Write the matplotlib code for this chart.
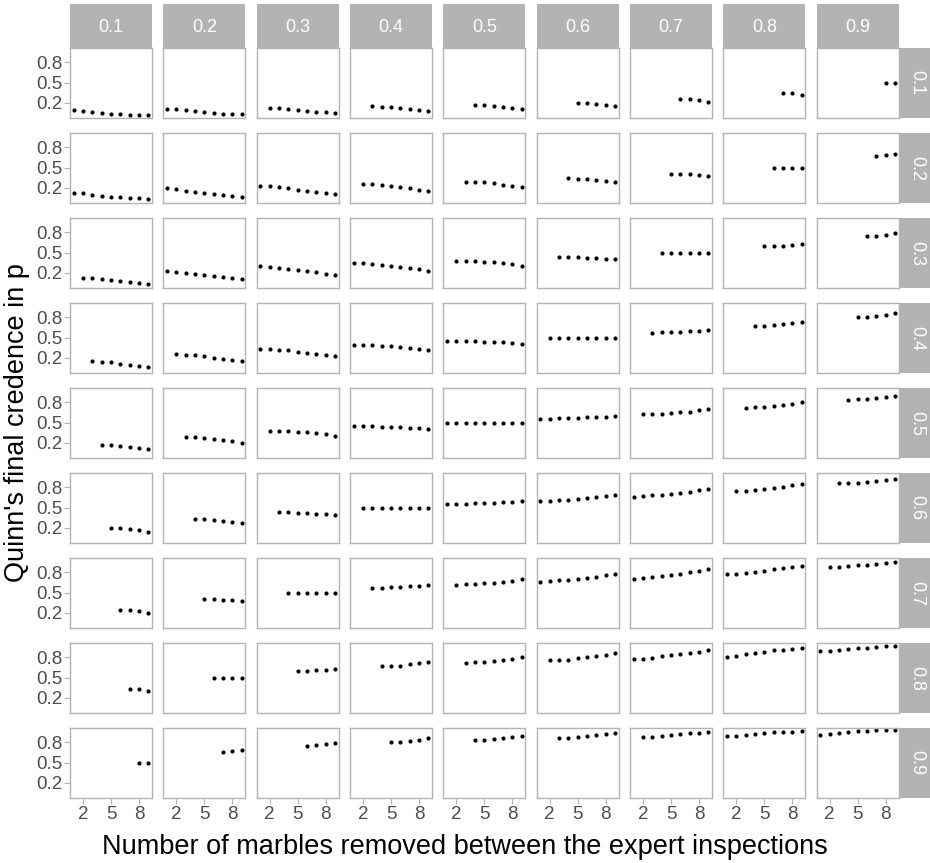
import matplotlib
matplotlib.use("Agg")
import matplotlib.pyplot as plt
import numpy as np

plt.rcParams['font.family'] = ['Liberation Sans Narrow', 'Liberation Sans', 'DejaVu Sans']

# facet labels (rows = first parameter, columns = second parameter)
row_labels = ["0.1", "0.2", "0.3", "0.4", "0.5", "0.6", "0.7", "0.8", "0.9"]
col_labels = ["0.1", "0.2", "0.3", "0.4", "0.5", "0.6", "0.7", "0.8", "0.9"]

# Quinn's final credence; each panel's points end at 9 marbles removed
row_01 = [
    [0.10, 0.085, 0.065, 0.05, 0.04, 0.03, 0.025, 0.02, 0.02],
    [0.115, 0.105, 0.095, 0.08, 0.065, 0.05, 0.04, 0.035, 0.03],
    [0.13, 0.125, 0.115, 0.10, 0.085, 0.07, 0.06, 0.05],
    [0.15, 0.145, 0.14, 0.125, 0.11, 0.10, 0.08],
    [0.175, 0.17, 0.16, 0.145, 0.13, 0.11],
    [0.205, 0.20, 0.19, 0.175, 0.155],
    [0.26, 0.255, 0.24, 0.215],
    [0.35, 0.345, 0.315],
    [0.50, 0.50],
]
row_02 = [
    [0.125, 0.12, 0.10, 0.085, 0.07, 0.06, 0.055, 0.045, 0.04],
    [0.205, 0.18, 0.16, 0.145, 0.125, 0.105, 0.09, 0.08, 0.07],
    [0.235, 0.225, 0.21, 0.195, 0.175, 0.155, 0.14, 0.125, 0.11],
    [0.26, 0.255, 0.245, 0.23, 0.215, 0.195, 0.17, 0.155],
    [0.295, 0.295, 0.285, 0.27, 0.25, 0.235, 0.21],
    [0.34, 0.335, 0.33, 0.315, 0.30, 0.285],
    [0.41, 0.405, 0.40, 0.39, 0.38],
    [0.50, 0.50, 0.50, 0.50],
    [0.675, 0.68, 0.705],
]
row_03 = [
    [0.13, 0.125, 0.11, 0.095, 0.08, 0.065, 0.05, 0.04],
    [0.225, 0.22, 0.205, 0.185, 0.17, 0.155, 0.14, 0.12, 0.105],
    [0.30, 0.29, 0.275, 0.26, 0.245, 0.23, 0.21, 0.19, 0.17],
    [0.345, 0.34, 0.335, 0.32, 0.305, 0.29, 0.275, 0.255, 0.235],
    [0.38, 0.38, 0.375, 0.365, 0.355, 0.345, 0.335, 0.31],
    [0.43, 0.43, 0.43, 0.425, 0.42, 0.41, 0.40],
    [0.50, 0.50, 0.50, 0.50, 0.50, 0.50],
    [0.595, 0.60, 0.605, 0.615, 0.63],
    [0.745, 0.75, 0.765, 0.79],
]
row_04 = [
    [0.15, 0.145, 0.135, 0.115, 0.10, 0.085, 0.07],
    [0.255, 0.25, 0.24, 0.225, 0.205, 0.19, 0.17, 0.15],
    [0.335, 0.33, 0.32, 0.31, 0.295, 0.28, 0.265, 0.245, 0.225],
    [0.395, 0.39, 0.385, 0.375, 0.37, 0.36, 0.345, 0.33, 0.31],
    [0.45, 0.45, 0.445, 0.445, 0.44, 0.435, 0.43, 0.425, 0.41],
    [0.50, 0.50, 0.50, 0.50, 0.50, 0.50, 0.50, 0.50],
    [0.575, 0.58, 0.585, 0.59, 0.595, 0.605, 0.615],
    [0.67, 0.675, 0.685, 0.695, 0.71, 0.73],
    [0.805, 0.805, 0.825, 0.84, 0.865],
]
row_05 = [
    [0.17, 0.165, 0.155, 0.14, 0.125, 0.105],
    [0.29, 0.29, 0.28, 0.265, 0.245, 0.225, 0.20],
    [0.38, 0.38, 0.375, 0.365, 0.355, 0.34, 0.325, 0.305],
    [0.445, 0.445, 0.445, 0.44, 0.435, 0.43, 0.425, 0.415, 0.405],
    [0.50, 0.50, 0.50, 0.50, 0.50, 0.50, 0.50, 0.50, 0.50],
    [0.56, 0.56, 0.565, 0.57, 0.575, 0.58, 0.585, 0.59, 0.60],
    [0.625, 0.63, 0.635, 0.645, 0.655, 0.665, 0.68, 0.70],
    [0.72, 0.725, 0.735, 0.75, 0.76, 0.78, 0.80],
    [0.84, 0.845, 0.855, 0.87, 0.88, 0.90],
]
row_06 = [
    [0.20, 0.195, 0.185, 0.165, 0.145],
    [0.33, 0.33, 0.32, 0.305, 0.295, 0.275],
    [0.43, 0.43, 0.425, 0.42, 0.41, 0.405, 0.39],
    [0.50, 0.50, 0.50, 0.50, 0.50, 0.50, 0.50, 0.50],
    [0.555, 0.555, 0.56, 0.565, 0.57, 0.575, 0.58, 0.59, 0.60],
    [0.60, 0.605, 0.615, 0.62, 0.63, 0.64, 0.655, 0.67, 0.69],
    [0.665, 0.67, 0.68, 0.69, 0.705, 0.72, 0.735, 0.755, 0.775],
    [0.75, 0.75, 0.76, 0.775, 0.795, 0.81, 0.83, 0.85],
    [0.86, 0.86, 0.87, 0.885, 0.90, 0.91, 0.925],
]
row_07 = [
    [0.25, 0.245, 0.225, 0.205],
    [0.40, 0.40, 0.395, 0.385, 0.37],
    [0.50, 0.50, 0.50, 0.50, 0.50, 0.50],
    [0.57, 0.575, 0.58, 0.585, 0.595, 0.60, 0.61],
    [0.62, 0.625, 0.63, 0.64, 0.65, 0.66, 0.675, 0.695],
    [0.665, 0.67, 0.68, 0.69, 0.705, 0.715, 0.73, 0.755, 0.775],
    [0.705, 0.715, 0.73, 0.745, 0.76, 0.78, 0.80, 0.825, 0.845],
    [0.775, 0.78, 0.79, 0.81, 0.825, 0.845, 0.86, 0.88, 0.90],
    [0.875, 0.88, 0.89, 0.905, 0.915, 0.925, 0.94, 0.95],
]
row_08 = [
    [0.335, 0.33, 0.31],
    [0.50, 0.50, 0.50, 0.50],
    [0.60, 0.605, 0.61, 0.615, 0.63],
    [0.67, 0.675, 0.68, 0.695, 0.71, 0.73],
    [0.72, 0.725, 0.735, 0.75, 0.765, 0.78, 0.805],
    [0.755, 0.755, 0.765, 0.785, 0.805, 0.82, 0.84, 0.86],
    [0.78, 0.78, 0.795, 0.815, 0.83, 0.85, 0.865, 0.885, 0.905],
    [0.805, 0.825, 0.85, 0.865, 0.885, 0.905, 0.915, 0.93, 0.94],
    [0.89, 0.895, 0.905, 0.925, 0.94, 0.945, 0.955, 0.965, 0.97],
]
row_09 = [
    [0.50, 0.50],
    [0.665, 0.67, 0.69],
    [0.75, 0.755, 0.77, 0.795],
    [0.80, 0.80, 0.82, 0.835, 0.86],
    [0.83, 0.835, 0.85, 0.87, 0.885, 0.90],
    [0.86, 0.865, 0.88, 0.895, 0.91, 0.92, 0.935],
    [0.88, 0.88, 0.895, 0.91, 0.925, 0.935, 0.945, 0.95],
    [0.895, 0.895, 0.91, 0.925, 0.94, 0.95, 0.955, 0.96, 0.97],
    [0.905, 0.92, 0.94, 0.955, 0.965, 0.975, 0.98, 0.985, 0.985],
]
credence = [row_01, row_02, row_03, row_04, row_05, row_06, row_07, row_08, row_09]
last_removed = 9

x_ticks = [2, 5, 8]
y_ticks = [0.2, 0.5, 0.8]

W, H = 930, 863
fig = plt.figure(figsize=(W / 100, H / 100), dpi=100)
fig.patch.set_facecolor("white")

def box(l, t, w, h):
    return [l / W, 1 - (t + h) / H, w / W, h / H]

left0, top0 = 70, 48
pw, ph = 82, 70
dx, dy = 93.33, 85
strip_col = "#B3B3B3"
border_col = "#B3B3B3"

for i in range(9):
    for j in range(9):
        l = left0 + dx * j
        t = top0 + dy * i
        ax = fig.add_axes(box(l, t, pw, ph))
        ys = credence[i][j]
        xs = np.arange(last_removed - len(ys) + 1, last_removed + 1)
        ax.plot(xs, ys, "o", color="black", markersize=3.0, markeredgewidth=0)
        ax.set_xlim(0.6, 9.4)
        ax.set_ylim(-0.023, 1.013)
        for s in ax.spines.values():
            s.set_color(border_col)
            s.set_linewidth(1.0)
        ax.set_xticks(x_ticks)
        ax.set_yticks(y_ticks)
        ax.tick_params(colors=border_col, length=4, width=0.8,
                       labelcolor="#4D4D4D", labelsize=13.5, pad=1.5)
        if j != 0:
            ax.tick_params(axis="y", left=False, labelleft=False)
        else:
            ax.set_yticklabels(["%.1f" % v for v in y_ticks])
        if i != 8:
            ax.tick_params(axis="x", bottom=False, labelbottom=False)

        if i == 0:
            sa = fig.add_axes(box(l, 4, pw, top0 - 4))
            sa.set_facecolor(strip_col)
            sa.set_xticks([]); sa.set_yticks([])
            for s in sa.spines.values():
                s.set_visible(False)
            sa.text(0.5, 0.47, col_labels[j], color="white", fontsize=13,
                    ha="center", va="center", transform=sa.transAxes)
        if j == 8:
            ra = fig.add_axes(box(l + pw + 1, t, W - (l + pw + 1), ph))
            ra.set_facecolor(strip_col)
            ra.set_xticks([]); ra.set_yticks([])
            for s in ra.spines.values():
                s.set_visible(False)
            ra.text(0.55, 0.5, row_labels[i], color="white", fontsize=13,
                    rotation=-90, ha="center", va="center", transform=ra.transAxes)

fig.text(465 / W, 1 - 847 / H, "Number of marbles removed between the expert inspections",
         ha="center", va="center", fontsize=19.5, color="black")
fig.text(17 / W, 1 - 423 / H, "Quinn's final credence in p",
         ha="center", va="center", fontsize=19.5, rotation=90, color="black")

fig.savefig("out.png", dpi=100, facecolor="white")
